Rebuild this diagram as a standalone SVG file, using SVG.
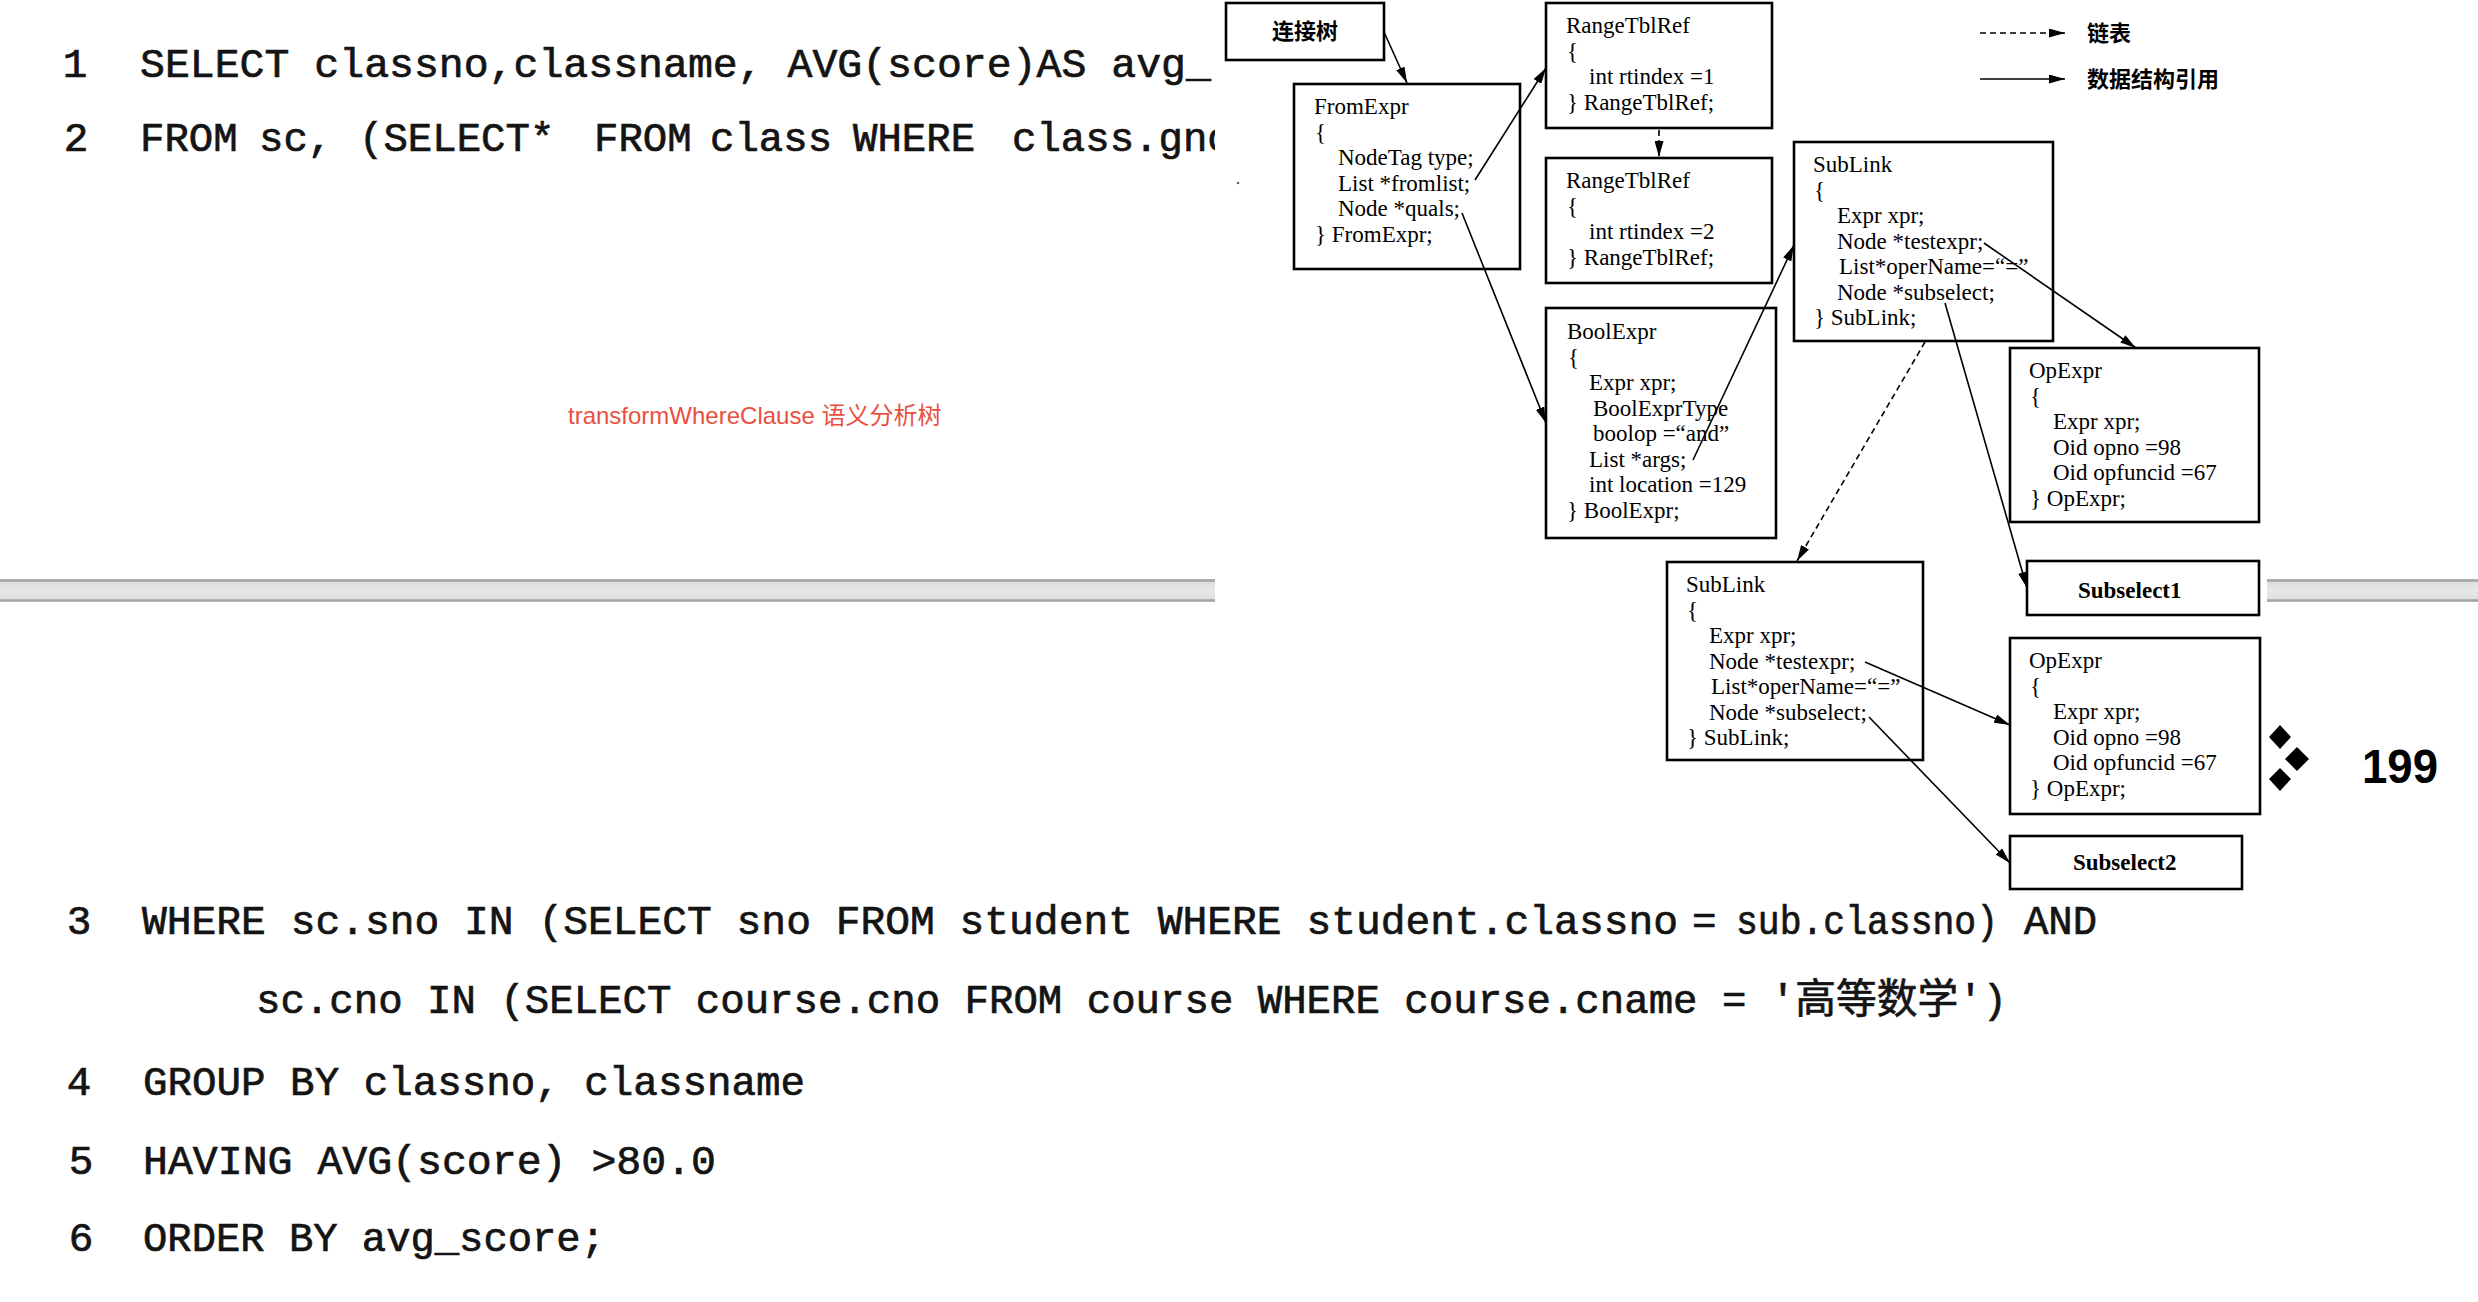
<svg xmlns="http://www.w3.org/2000/svg" width="2478" height="1302" viewBox="0 0 2478 1302">
<style>
.box{fill:#fff;stroke:#000;stroke-width:2.6}
.t{font-family:"Liberation Serif","Noto Sans CJK SC",serif;font-size:23px;fill:#000}
.b{font-weight:bold}
.cj{font-family:"Noto Sans CJK SC",sans-serif;font-size:22px;font-weight:bold;fill:#000}
.code{font-family:"Liberation Mono","Noto Sans CJK SC",monospace;font-size:41px;fill:#141414;stroke:#141414;stroke-width:0.7}
.num{text-anchor:middle}
.conn{stroke:#000;stroke-width:1.6;fill:none;marker-end:url(#ah)}
.dash{stroke-dasharray:6 4}
.barline{stroke:#a4a4a4;stroke-width:2.5}
</style>
<defs>
<marker id="ah" markerUnits="userSpaceOnUse" markerWidth="16" markerHeight="9" refX="16" refY="4.5" orient="auto">
<path d="M0,0 L16,4.5 L0,9 Z" fill="#000"/>
</marker>
<linearGradient id="barg" x1="0" y1="0" x2="0" y2="1">
<stop offset="0" stop-color="#d9d9d9"/>
<stop offset="0.5" stop-color="#e8e8e8"/>
<stop offset="1" stop-color="#dedede"/>
</linearGradient>
<clipPath id="leftclip"><rect x="0" y="0" width="1215" height="300"/></clipPath>
<clipPath id="ornclip"><rect x="2267" y="700" width="100" height="120"/></clipPath>
</defs>
<rect width="2478" height="1302" fill="#fff"/>

<!-- top code -->
<g id="code-top" clip-path="url(#leftclip)">
<text class="code num" x="75" y="77">1</text>
<text class="code" x="140" y="77" style="font-size:41.5px" xml:space="preserve">SELECT classno,classname, AVG(score)AS avg_</text>
<text class="code num" x="76" y="151">2</text>
<text class="code" y="151" style="font-size:40.7px"><tspan x="140">FROM</tspan><tspan x="259">sc,</tspan><tspan x="359">(SELECT*</tspan><tspan x="594">FROM</tspan><tspan x="710">class</tspan><tspan x="853">WHERE</tspan><tspan x="1012">class.gno</tspan></text>
</g>

<text id="caption" x="568" y="424" style="font-family:'Liberation Sans','Noto Sans CJK SC',sans-serif;font-size:24px;fill:#e9503f">transformWhereClause 语义分析树</text>

<!-- gray bar -->
<g id="bar">
<rect x="0" y="579" width="1215" height="23" fill="url(#barg)"/>
<line class="barline" x1="0" y1="580.5" x2="1215" y2="580.5"/>
<line class="barline" x1="0" y1="600.5" x2="1215" y2="600.5"/>
<rect x="2267" y="579" width="211" height="23" fill="url(#barg)"/>
<line class="barline" x1="2267" y1="580.5" x2="2478" y2="580.5"/>
<line class="barline" x1="2267" y1="600.5" x2="2478" y2="600.5"/>
</g>

<!-- bottom code -->
<g id="code-bottom">
<text class="code num" x="79" y="934">3</text>
<text class="code" x="142" y="934" textLength="1536" lengthAdjust="spacingAndGlyphs" xml:space="preserve">WHERE sc.sno IN (SELECT sno FROM student WHERE student.classno</text>
<text class="code" x="1692" y="934">=</text>
<text class="code" x="1736" y="934" textLength="262" lengthAdjust="spacingAndGlyphs">sub.classno)</text>
<text class="code" x="2024" y="934" textLength="73" lengthAdjust="spacingAndGlyphs">AND</text>
<text class="code" x="256" y="1013" textLength="1751" lengthAdjust="spacingAndGlyphs" xml:space="preserve">sc.cno IN (SELECT course.cno FROM course WHERE course.cname = '高等数学')</text>
<text class="code num" x="79" y="1095">4</text>
<text class="code" x="143" y="1095" textLength="662" lengthAdjust="spacingAndGlyphs" xml:space="preserve">GROUP BY classno, classname</text>
<text class="code num" x="81" y="1174">5</text>
<text class="code" x="143" y="1174" textLength="573" lengthAdjust="spacingAndGlyphs" xml:space="preserve">HAVING AVG(score) &gt;80.0</text>
<text class="code num" x="81" y="1251">6</text>
<text class="code" x="143" y="1251" textLength="462" lengthAdjust="spacingAndGlyphs" xml:space="preserve">ORDER BY avg_score;</text>
</g>

<!-- page number -->
<g id="pagenum">
<g clip-path="url(#ornclip)" fill="#000">
<polygon points="2280,725 2291,737 2280,749 2269,737"/>
<polygon points="2297,747 2309,759 2297,771 2285,759"/>
<polygon points="2280,768 2291,779 2280,791 2269,779"/>
</g>
<text x="2362" y="783" textLength="76" lengthAdjust="spacingAndGlyphs" style="font-family:'Liberation Sans',sans-serif;font-size:48px;font-weight:bold;fill:#000">199</text>
</g>

<circle cx="1238" cy="183" r="1.3" fill="#666"/>

<!-- legend -->
<g id="legend">
<line class="conn dash" x1="1980" y1="33" x2="2065" y2="33"/>
<text class="cj" x="2087" y="41">链表</text>
<line class="conn" x1="1980" y1="79" x2="2065" y2="79"/>
<text class="cj" x="2087" y="87">数据结构引用</text>
</g>

<!-- nodes -->
<g id="n-join">
<rect class="box" x="1226" y="3" width="158" height="57"/>
<text class="cj" x="1305" y="39" text-anchor="middle">连接树</text>
</g>

<g id="n-fromexpr">
<rect class="box" x="1294" y="84" width="226" height="185"/>
<text class="t" x="1314" y="114">FromExpr</text>
<text class="t" x="1315" y="139.5">{</text>
<text class="t" x="1338" y="165">NodeTag type;</text>
<text class="t" x="1338" y="190.5">List *fromlist;</text>
<text class="t" x="1338" y="216">Node *quals;</text>
<text class="t" x="1315" y="241.5">} FromExpr;</text>
</g>

<g id="n-rtr1">
<rect class="box" x="1546" y="3" width="226" height="125"/>
<text class="t" x="1566" y="33">RangeTblRef</text>
<text class="t" x="1567" y="58.5">{</text>
<text class="t" x="1589" y="84">int rtindex =1</text>
<text class="t" x="1567" y="109.5">} RangeTblRef;</text>
</g>

<g id="n-rtr2">
<rect class="box" x="1546" y="158" width="226" height="125"/>
<text class="t" x="1566" y="188">RangeTblRef</text>
<text class="t" x="1567" y="213.5">{</text>
<text class="t" x="1589" y="239">int rtindex =2</text>
<text class="t" x="1567" y="264.5">} RangeTblRef;</text>
</g>

<g id="n-boolexpr">
<rect class="box" x="1546" y="308" width="230" height="230"/>
<text class="t" x="1567" y="339">BoolExpr</text>
<text class="t" x="1568" y="364.5">{</text>
<text class="t" x="1589" y="390">Expr xpr;</text>
<text class="t" x="1593" y="415.5">BoolExprType</text>
<text class="t" x="1593" y="441">boolop =“and”</text>
<text class="t" x="1589" y="466.5">List *args;</text>
<text class="t" x="1589" y="492">int location =129</text>
<text class="t" x="1567" y="517.5">} BoolExpr;</text>
</g>

<g id="n-sublink1">
<rect class="box" x="1794" y="142" width="259" height="199"/>
<text class="t" x="1813" y="172">SubLink</text>
<text class="t" x="1814" y="197.5">{</text>
<text class="t" x="1837" y="223">Expr xpr;</text>
<text class="t" x="1837" y="248.5">Node *testexpr;</text>
<text class="t" x="1839" y="274">List*operName=“=”</text>
<text class="t" x="1837" y="299.5">Node *subselect;</text>
<text class="t" x="1814" y="325">} SubLink;</text>
</g>

<g id="n-opexpr1">
<rect class="box" x="2010" y="348" width="249" height="174"/>
<text class="t" x="2029" y="378">OpExpr</text>
<text class="t" x="2030" y="403.5">{</text>
<text class="t" x="2053" y="429">Expr xpr;</text>
<text class="t" x="2053" y="454.5">Oid opno =98</text>
<text class="t" x="2053" y="480">Oid opfuncid =67</text>
<text class="t" x="2030" y="505.5">} OpExpr;</text>
</g>

<g id="n-subselect1">
<rect class="box" x="2027" y="561" width="232" height="54"/>
<text class="t b" x="2078" y="598">Subselect1</text>
</g>

<g id="n-sublink2">
<rect class="box" x="1667" y="562" width="256" height="198"/>
<text class="t" x="1686" y="592">SubLink</text>
<text class="t" x="1687" y="617.5">{</text>
<text class="t" x="1709" y="643">Expr xpr;</text>
<text class="t" x="1709" y="668.5">Node *testexpr;</text>
<text class="t" x="1711" y="694">List*operName=“=”</text>
<text class="t" x="1709" y="719.5">Node *subselect;</text>
<text class="t" x="1687" y="745">} SubLink;</text>
</g>

<g id="n-opexpr2">
<rect class="box" x="2010" y="638" width="250" height="176"/>
<text class="t" x="2029" y="668">OpExpr</text>
<text class="t" x="2030" y="693.5">{</text>
<text class="t" x="2053" y="719">Expr xpr;</text>
<text class="t" x="2053" y="744.5">Oid opno =98</text>
<text class="t" x="2053" y="770">Oid opfuncid =67</text>
<text class="t" x="2030" y="795.5">} OpExpr;</text>
</g>

<g id="n-subselect2">
<rect class="box" x="2010" y="836" width="232" height="53"/>
<text class="t b" x="2073" y="870">Subselect2</text>
</g>

<!-- connectors -->
<g id="connectors">
<line class="conn" x1="1384" y1="32" x2="1407" y2="83"/>
<line class="conn" x1="1475" y1="180" x2="1546" y2="68"/>
<line class="conn" x1="1462" y1="213" x2="1546" y2="423"/>
<line class="conn dash" x1="1659" y1="130" x2="1659" y2="157"/>
<line class="conn" x1="1693" y1="460" x2="1794" y2="245"/>
<line class="conn" x1="1984" y1="243" x2="2136" y2="348"/>
<line class="conn" x1="1945" y1="303" x2="2027" y2="588"/>
<line class="conn dash" x1="1925" y1="342" x2="1797" y2="561"/>
<line class="conn" x1="1865" y1="662" x2="2010" y2="725"/>
<line class="conn" x1="1869" y1="717" x2="2010" y2="863"/>
</g>
</svg>
